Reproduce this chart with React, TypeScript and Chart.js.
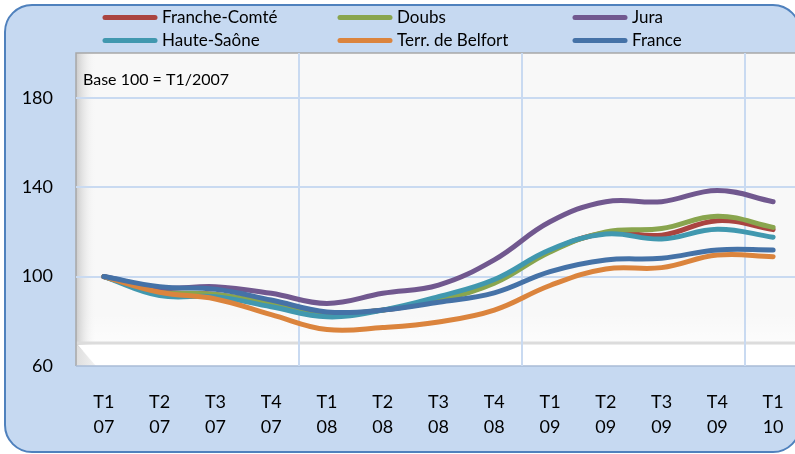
import React, { useEffect, useRef } from "react";
import { Chart, registerables } from "chart.js";

Chart.register(...registerables);

const quarters = ["T1", "T2", "T3", "T4", "T1", "T2", "T3", "T4", "T1", "T2", "T3", "T4", "T1"];
const years = ["07", "07", "07", "07", "08", "08", "08", "08", "09", "09", "09", "09", "10"];

const franche = [100, 93, 92, 87.5, 83.5, 85, 89.5, 97.5, 111.5, 119.5, 118.5, 125, 121];
const doubs = [100, 93.5, 92, 88, 83.5, 85, 89.5, 97, 111, 120, 121.5, 127, 122];
const jura = [100, 95, 95.5, 92.5, 88, 92.5, 96.2, 107.5, 124.5, 133.5, 133.5, 138.5, 133.5];
const hauteSaone = [100, 91.5, 91, 86.5, 82, 85, 91, 98.7, 112, 119, 116.8, 121.2, 117.6];
const belfort = [100, 93, 90, 83, 76.3, 77.2, 79.7, 85, 96, 103.4, 104, 109.6, 108.9];
const france = [100, 95.5, 94.3, 89.5, 84.2, 85, 88.5, 92.7, 102.2, 107.4, 108.2, 111.9, 111.9];

const seriesNames = ["Franche-Comté", "Doubs", "Jura", "Haute-Saône", "Terr. de Belfort", "France"];
const seriesColors = ["#aa4440", "#89a54e", "#71588f", "#4198af", "#db843d", "#4572a7"];
const seriesData = [franche, doubs, jura, hauteSaone, belfort, france];

const yTicks = [60, 100, 140, 180];
const baseNote = "Base 100 = T1/2007";

const FONT = "Lato, 'Noto Sans', sans-serif";

export default function App() {
  const ref = useRef<HTMLCanvasElement | null>(null);

  useEffect(() => {
    const canvas = ref.current;
    if (!canvas) return;

    const decor = {
      id: "decor",
      beforeDraw(chart: any) {
        const { ctx, chartArea: a } = chart;
        ctx.save();
        // plot background
        ctx.fillStyle = "#f8f8f8";
        ctx.fillRect(a.left, a.top, a.right - a.left, a.bottom - a.top);
        // floor strip
        const floorTop = a.bottom - 23;
        const g2 = ctx.createLinearGradient(0, floorTop - 30, 0, a.bottom);
        g2.addColorStop(0, "rgba(255,255,255,0)");
        g2.addColorStop(1, "rgba(255,255,255,1)");
        ctx.fillStyle = g2;
        ctx.fillRect(a.left, floorTop - 30, a.right - a.left, a.bottom - floorTop + 30);
        // left wall shadow
        const g = ctx.createLinearGradient(a.left, 0, a.left + 20, 0);
        g.addColorStop(0, "rgba(195,195,195,0.85)");
        g.addColorStop(1, "rgba(248,248,248,0)");
        ctx.fillStyle = g;
        ctx.fillRect(a.left, a.top, 20, a.bottom - a.top);
        // floor line
        ctx.strokeStyle = "#dcdcdc";
        ctx.lineWidth = 3;
        ctx.beginPath();
        ctx.moveTo(a.left, floorTop);
        ctx.lineTo(a.right, floorTop);
        ctx.stroke();
        // floor
        ctx.fillStyle = "#ffffff";
        ctx.beginPath();
        ctx.moveTo(a.left + 2, floorTop + 2);
        ctx.lineTo(a.left + 20, a.bottom);
        ctx.lineTo(a.right, a.bottom);
        ctx.lineTo(a.right, floorTop + 2);
        ctx.closePath();
        ctx.fill();
        const g3 = ctx.createLinearGradient(a.left, 0, a.left + 20, 0);
        g3.addColorStop(0, "#dedede");
        g3.addColorStop(1, "#f2f2f2");
        ctx.fillStyle = g3;
        ctx.beginPath();
        ctx.moveTo(a.left, floorTop + 1);
        ctx.lineTo(a.left + 20, a.bottom);
        ctx.lineTo(a.left, a.bottom);
        ctx.closePath();
        ctx.fill();
        // borders
        ctx.strokeStyle = "#a8a8a8";
        ctx.lineWidth = 1.5;
        ctx.beginPath();
        ctx.moveTo(a.left, a.bottom);
        ctx.lineTo(a.left, a.top);
        ctx.lineTo(a.right, a.top);
        ctx.stroke();
        ctx.strokeStyle = "#a9bbd6";
        ctx.lineWidth = 1.5;
        ctx.beginPath();
        ctx.moveTo(a.left, a.bottom);
        ctx.lineTo(a.right, a.bottom);
        ctx.stroke();
        ctx.restore();
      },
      afterDraw(chart: any) {
        const { ctx, chartArea: a } = chart;
        ctx.save();
        // note
        ctx.fillStyle = "#000";
        ctx.font = `16px ${FONT}`;
        ctx.textBaseline = "middle";
        ctx.textAlign = "left";
        ctx.fillText(baseNote, a.left + 7, 80);
        // legend
        const colX = [103, 338, 573];
        const rowY = [17.5, 40.5];
        ctx.font = `17px ${FONT}`;
        seriesNames.forEach((name, i) => {
          const cx = colX[i % 3];
          const cy = rowY[Math.floor(i / 3)];
          ctx.strokeStyle = seriesColors[i];
          ctx.lineWidth = 5;
          ctx.lineCap = "round";
          ctx.beginPath();
          ctx.moveTo(cx + 2, cy);
          ctx.lineTo(cx + 52, cy);
          ctx.stroke();
          ctx.fillStyle = "#000";
          ctx.fillText(name, cx + 59, cy);
        });
        ctx.restore();
      },
    };

    const chart = new Chart(canvas, {
      type: "line",
      data: {
        labels: quarters.map((q, i) => [q, years[i]]),
        datasets: seriesNames.map((name, i) => ({
          label: name,
          data: seriesData[i],
          borderColor: seriesColors[i],
          backgroundColor: seriesColors[i],
          borderWidth: 5,
          pointRadius: 0,
          tension: 0.4,
          borderCapStyle: "round" as const,
          borderJoinStyle: "round" as const,
          order: seriesNames.length - i,
          fill: false,
        })),
      },
      options: {
        responsive: false,
        animation: false,
        devicePixelRatio: 1,
        layout: { padding: { top: 53, left: 0, right: 19, bottom: 0 } },
        plugins: {
          legend: { display: false },
          title: { display: false },
          tooltip: { enabled: false },
        },
        scales: {
          x: {
            type: "category",
            offset: true,
            afterFit(scale: any) {
              scale.height = 88;
            },
            grid: {
              offset: true,
              drawTicks: false,
              lineWidth: 2,
              color: (c: any) =>
                c.index > 0 && c.index <= 12 && c.index % 4 === 0 ? "#c9daf1" : "rgba(0,0,0,0)",
            },
            border: { display: false },
            ticks: {
              color: "#000",
              padding: 24,
              maxRotation: 0,
              autoSkip: false,
              font: { family: FONT, size: 18, lineHeight: 25 / 18 },
            },
          },
          y: {
            min: 60,
            max: 200,
            afterFit(scale: any) {
              scale.width = 76;
            },
            afterBuildTicks(scale: any) {
              scale.ticks = yTicks.map((v) => ({ value: v }));
            },
            grid: {
              drawTicks: false,
              lineWidth: 2,
              color: (c: any) => (c.tick && c.tick.value === 60 ? "rgba(0,0,0,0)" : "#c9daf1"),
            },
            border: { display: false },
            ticks: {
              color: "#000",
              padding: 23,
              font: { family: FONT, size: 18 },
            },
          },
        },
      },
      plugins: [decor],
    });

    return () => chart.destroy();
  }, []);

  return (
    <div
      style={{
        position: "fixed",
        left: 0,
        top: 0,
        width: 795,
        height: 454,
        overflow: "hidden",
        background: "#ffffff",
      }}
    >
      <div
        style={{
          position: "absolute",
          left: 4,
          top: 4,
          width: 797,
          height: 449,
          boxSizing: "border-box",
          border: "2px solid #4f81bd",
          borderRadius: 28,
          background: "#c6d9f1",
        }}
      />
      <canvas
        ref={ref}
        width={820}
        height={454}
        style={{ position: "absolute", left: 0, top: 0, width: 820, height: 454 }}
      />
    </div>
  );
}
